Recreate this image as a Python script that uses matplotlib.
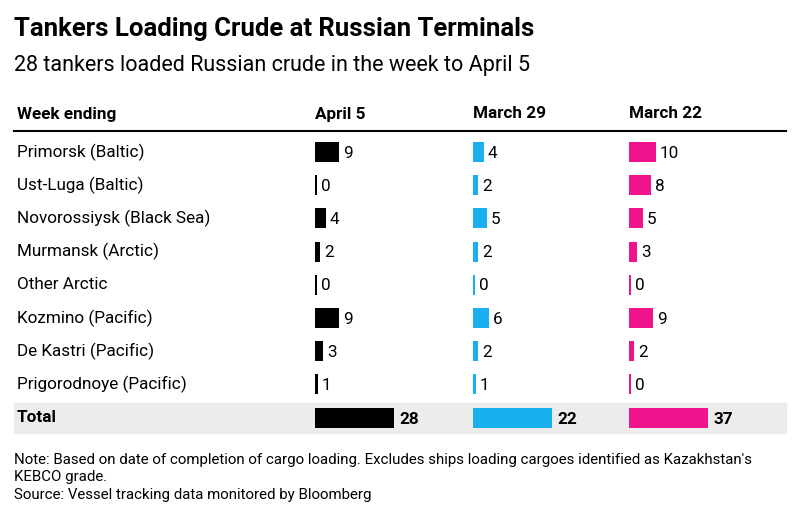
import matplotlib.pyplot as plt

terminals = ["Primorsk (Baltic)", "Ust-Luga (Baltic)", "Novorossiysk (Black Sea)",
             "Murmansk (Arctic)", "Other Arctic", "Kozmino (Pacific)",
             "De Kastri (Pacific)", "Prigorodnoye (Pacific)"]
weeks = ["April 5", "March 29", "March 22"]
april5 = [9, 0, 4, 2, 0, 9, 3, 1]
march29 = [4, 2, 5, 2, 0, 6, 2, 1]
march22 = [10, 8, 5, 3, 0, 9, 2, 0]
colors = ["#000000", "#1ab0f0", "#f0148c"]

plt.rcParams['font.family'] = ['Roboto', 'DejaVu Sans']
fig = plt.figure(figsize=(8.08, 5.18), dpi=100)
ax = fig.add_axes([0, 0, 1, 1])
ax.set_xlim(0, 808)
ax.set_ylim(518, 0)
ax.axis("off")

ax.text(14, 29, "Tankers Loading Crude at Russian Terminals",
        fontsize=18.5, fontweight="bold", va="center")
ax.text(14, 66, "28 tankers loaded Russian crude in the week to April 5",
        fontsize=15.5, va="center")

fs = 12.3
col_x = [315, 473, 629]
ax.text(17, 114, "Week ending", fontsize=fs, fontweight="bold", va="center")
for x, w in zip(col_x, weeks):
    ax.text(x, 114, w, fontsize=fs, fontweight="bold", va="center")
ax.plot([14, 786], [131, 131], color="black", lw=1.5)

row_y = [152 + i * 33.2 for i in range(len(terminals))]
scale = 2.7
for j, vals in enumerate([april5, march29, march22]):
    for y, v in zip(row_y, vals):
        w = max(v * scale, 2)
        ax.barh(y, w, left=col_x[j], height=20, color=colors[j])
        ax.text(col_x[j] + w + 4, y + 1, str(v), fontsize=fs, va="center")
for y, name in zip(row_y, terminals):
    ax.text(17, y, name, fontsize=fs, va="center")

# total row
ax.add_patch(plt.Rectangle((14, 403), 772, 30, color="#ececec", zorder=0))
ty = 418
ax.text(17, ty, "Total", fontsize=fs, fontweight="bold", va="center")
for j, vals in enumerate([april5, march29, march22]):
    tot = sum(vals)
    w = 79
    ax.barh(ty, w, left=col_x[j], height=20, color=colors[j])
    ax.text(col_x[j] + w + 5, ty + 1, str(tot), fontsize=fs, fontweight="bold", va="center")

notes = ["Note: Based on date of completion of cargo loading. Excludes ships loading cargoes identified as Kazakhstan's",
         "KEBCO grade.",
         "Source: Vessel tracking data monitored by Bloomberg"]
for i, n in enumerate(notes):
    ax.text(14, 460 + i * 17.5, n, fontsize=10.8, va="center")

fig.savefig("out.png", dpi=100)
